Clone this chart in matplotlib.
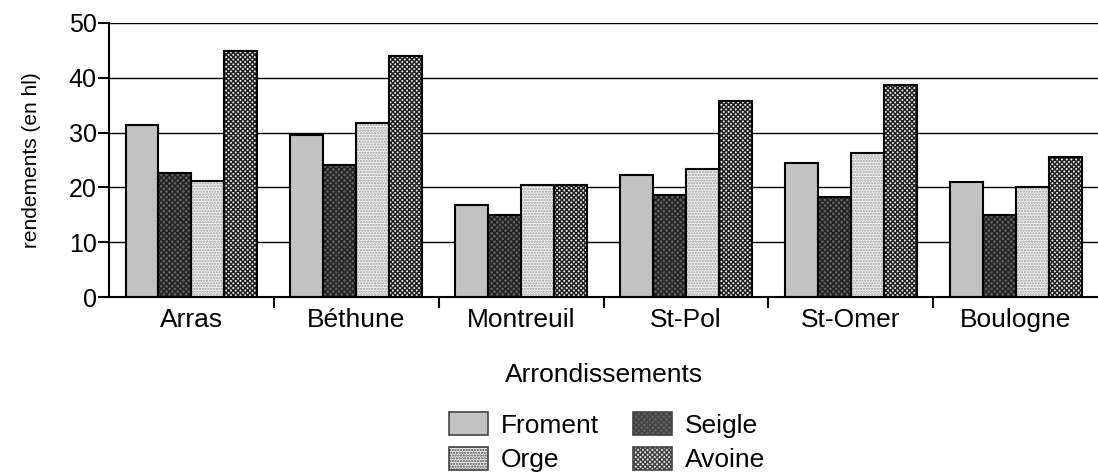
import matplotlib
matplotlib.use("Agg")
import matplotlib.pyplot as plt
from matplotlib.patches import Patch
import numpy as np

categories = ["Arras", "Béthune", "Montreuil", "St-Pol", "St-Omer", "Boulogne"]
series_names = ["Froment", "Seigle", "Orge", "Avoine"]
froment = [31.4, 29.6, 16.8, 22.3, 24.5, 20.9]
seigle = [22.6, 24.1, 15.0, 18.6, 18.2, 15.0]
orge = [21.2, 31.8, 20.4, 23.4, 26.3, 20.0]
avoine = [44.9, 44.0, 20.4, 35.8, 38.7, 25.5]
yticks = [0, 10, 20, 30, 40, 50]

series = [froment, seigle, orge, avoine]
# (facecolor, hatch, hatchcolor)
styles = [
    ("#c2c2c2", None, "#c2c2c2"),
    ("#626262", "xxxxxx", "#222222"),
    ("#f4f4f4", "......", "#9a9a9a"),
    ("#f0f0f0", "xxxxxxx", "#222222"),
]

plt.rcParams["font.family"] = ["Liberation Sans Narrow", "Liberation Sans", "DejaVu Sans"]
plt.rcParams["hatch.linewidth"] = 1.1

fig = plt.figure(figsize=(10.98, 4.76), dpi=100)
ax = fig.add_axes([0.0993, 0.376, 0.9007, 0.5757])

x = np.arange(len(categories))
w = 0.2
for k, (vals, (fc, hatch, hc)) in enumerate(zip(series, styles)):
    pos = x + (k - 1.5) * w
    ax.bar(pos, vals, width=w, color=fc, hatch=hatch, edgecolor=hc, linewidth=0, zorder=2)
    ax.bar(pos, vals, width=w, fill=False, edgecolor="black", linewidth=1.5, zorder=3)

ax.set_xlim(-0.5, len(categories) - 0.5)
ax.set_ylim(0, 50)
ax.set_yticks(yticks)
ax.set_yticklabels([str(t) for t in yticks], fontsize=18)
ax.yaxis.grid(True, color="black", linewidth=1.0, zorder=0)
ax.set_axisbelow(True)

ax.set_xticks(x)
ax.set_xticklabels(categories, fontsize=19)
ax.set_xticks(np.arange(0.5, len(categories) - 0.5, 1.0), minor=True)
ax.tick_params(axis="x", which="major", length=0, pad=8)
ax.tick_params(axis="x", which="minor", length=8, width=1.5, direction="out")
ax.tick_params(axis="y", length=8, width=1.5, direction="out", pad=1)

for s in ["top", "right"]:
    ax.spines[s].set_visible(False)
ax.spines["left"].set_linewidth(1.5)
ax.spines["bottom"].set_linewidth(1.5)

ax.set_ylabel("rendements (en hl)", fontsize=15, labelpad=20)
ax.set_xlabel("Arrondissements", fontsize=19, labelpad=22)

handles = [Patch(facecolor=fc, hatch=hatch, edgecolor="#444444", linewidth=1.2)
           for (fc, hatch, hc) in styles]
order = [0, 2, 1, 3]
leg = fig.legend([handles[i] for i in order], [series_names[i] for i in order],
                 ncol=2, loc="upper center", bbox_to_anchor=(0.553, 0.162),
                 frameon=False, fontsize=19, handlelength=1.45, handleheight=0.95,
                 handletextpad=0.5, columnspacing=1.3, labelspacing=0.35,
                 borderpad=0)

fig.savefig("out.png", dpi=100)
